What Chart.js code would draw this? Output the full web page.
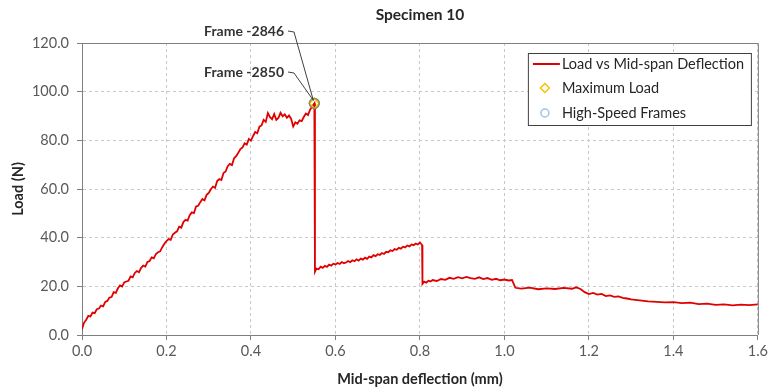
<!DOCTYPE html>
<html>
<head>
<meta charset="utf-8">
<script src="https://cdn.jsdelivr.net/npm/chart.js@4"></script>
<style>
  html, body { margin: 0; padding: 0; background: #fff; }
  #wrap { width: 771px; height: 390px; }
</style>
</head>
<body>
<div id="wrap"><canvas id="chart"></canvas></div>
<script>
// Load vs mid-span deflection
const deflection = [
  0.000, 0.005, 0.010, 0.015, 0.020, 0.025, 0.030, 0.035, 0.040, 0.045,
  0.050, 0.055, 0.060, 0.065, 0.070, 0.075, 0.080, 0.085, 0.090, 0.095,
  0.100, 0.105, 0.110, 0.115, 0.120, 0.125, 0.130, 0.135, 0.140, 0.145,
  0.150, 0.155, 0.160, 0.165, 0.170, 0.175, 0.180, 0.185, 0.190, 0.195,
  0.200, 0.205, 0.210, 0.215, 0.220, 0.225, 0.230, 0.235, 0.240, 0.245,
  0.250, 0.255, 0.260, 0.265, 0.270, 0.275, 0.280, 0.285, 0.290, 0.295,
  0.300, 0.305, 0.310, 0.315, 0.320, 0.325, 0.330, 0.335, 0.340, 0.345,
  0.350, 0.355, 0.360, 0.365, 0.370, 0.375, 0.380, 0.385, 0.390, 0.395,
  0.400, 0.405, 0.410, 0.415, 0.420, 0.425, 0.430, 0.435, 0.440, 0.445,
  0.450, 0.455, 0.460, 0.465, 0.470, 0.475, 0.480, 0.485, 0.490, 0.495,
  0.500, 0.505, 0.510, 0.515, 0.520, 0.525, 0.530, 0.535, 0.540, 0.545,
  0.550, 0.5515,
  0.555, 0.560, 0.565, 0.570, 0.575, 0.580, 0.585, 0.590, 0.595,
  0.600, 0.605, 0.610, 0.615, 0.620, 0.625, 0.630, 0.635, 0.640, 0.645,
  0.650, 0.655, 0.660, 0.665, 0.670, 0.675, 0.680, 0.685, 0.690, 0.695,
  0.700, 0.705, 0.710, 0.715, 0.720, 0.725, 0.730, 0.735, 0.740, 0.745,
  0.750, 0.755, 0.760, 0.765, 0.770, 0.775, 0.780, 0.785, 0.790, 0.795,
  0.800, 0.803, 0.805, 0.806,
  0.810, 0.815, 0.820, 0.825, 0.830, 0.840, 0.850, 0.860, 0.870, 0.880,
  0.890, 0.900, 0.910, 0.920, 0.930, 0.940, 0.950, 0.960, 0.970, 0.980,
  0.990, 1.000, 1.010, 1.018, 1.022, 1.026,
  1.040, 1.060, 1.080, 1.100, 1.120, 1.140, 1.160, 1.170, 1.180, 1.190,
  1.200, 1.210, 1.220, 1.230, 1.240, 1.250, 1.260, 1.270, 1.280, 1.290,
  1.300, 1.320, 1.340, 1.360, 1.380, 1.400, 1.420, 1.440, 1.460, 1.480,
  1.500, 1.520, 1.540, 1.560, 1.580, 1.600
];
const load = [
  2.4, 5.1, 6.3, 7.9, 7.6, 9.2, 9.0, 10.6, 10.9, 12.1,
  11.8, 13.6, 14.0, 15.4, 15.6, 17.6, 17.3, 19.2, 20.4, 19.9,
  21.6, 22.0, 22.3, 24.1, 23.7, 25.5, 26.3, 25.8, 27.6, 28.5,
  28.1, 30.0, 30.4, 31.9, 31.5, 33.3, 34.0, 34.4, 36.1, 37.5,
  38.6, 39.4, 39.1, 41.3, 42.0, 42.6, 44.5, 44.1, 46.4, 47.3,
  47.0, 49.2, 50.4, 50.1, 52.8, 53.1, 54.6, 55.9, 55.3, 57.6,
  58.4, 59.9, 61.0, 60.5, 63.3, 64.1, 63.7, 66.6, 67.2, 69.4,
  70.3, 69.8, 72.6, 73.5, 74.9, 76.4, 77.1, 78.8, 78.2, 80.6,
  79.9, 81.8, 83.4, 82.9, 85.6, 86.1, 88.4, 87.6, 91.2, 89.5,
  88.7, 90.8, 88.4, 89.2, 91.3, 89.9, 90.7, 89.3, 90.2, 88.9,
  85.7, 87.4, 86.8, 88.2, 87.9, 89.6, 91.0, 90.4, 92.6, 93.9,
  95.2, 26.0,
  27.3, 27.0, 28.1, 27.6, 28.4, 28.0, 28.9, 28.5, 29.3,
  29.0, 29.6, 29.2, 30.0, 29.5, 29.8, 30.4, 29.9, 30.7, 30.3,
  31.1, 30.6, 31.4, 31.0, 31.8, 31.3, 32.2, 31.9, 32.8, 32.4,
  33.2, 32.9, 33.7, 33.3, 34.2, 34.0, 34.8, 34.5, 35.3, 35.0,
  35.8, 35.5, 36.3, 36.0, 36.8, 36.4, 37.2, 36.9, 37.6, 37.2,
  38.0, 37.4, 37.0, 21.0,
  21.9, 21.5, 22.3, 22.0, 22.6, 22.2, 23.0, 22.7, 23.5, 23.1,
  23.8, 23.3, 23.9, 23.4, 23.1, 23.7, 23.0, 23.4, 22.7, 23.1,
  22.5, 22.8, 22.4, 22.6, 21.0, 19.4,
  19.1, 19.5, 18.8, 19.2, 18.9, 19.4, 19.0, 19.6, 18.9, 17.6,
  16.8, 17.3, 16.6, 16.9, 16.0, 16.3, 15.7, 15.9, 15.3, 15.0,
  14.6, 14.2, 13.8, 13.6, 13.4, 13.5, 13.1, 13.3, 12.7, 12.9,
  12.4, 12.6, 12.2, 12.5, 12.3, 12.6
];

const maxLoadX = [0.55];
const maxLoadY = [95.2];
const frameX = [0.55, 0.55];
const frameY = [95.2, 95.2];
const frameNames = ['Frame -2846', 'Frame -2850'];

const seriesLabels = ['Load vs Mid-span Deflection', 'Maximum Load', 'High-Speed Frames'];
const xTicks = [0, 0.2, 0.4, 0.6, 0.8, 1.0, 1.2, 1.4, 1.6];
const yTicks = [0, 20, 40, 60, 80, 100, 120];

const RED = '#E00000';
const GOLD = '#F2C200';
const BLUE = '#9DC3E6';
const FONT = 'Lato, "Open Sans", sans-serif';

const toPts = (xs, ys) => xs.map((x, i) => ({x: x, y: ys[i]}));

// frame round the plot, annotations with leader lines, and a boxed legend inside
const extras = {
  id: 'extras',
  afterDatasetsDraw(chart) {
    const {ctx, chartArea: a, scales} = chart;
    ctx.save();
    ctx.strokeStyle = '#7F7F7F';
    ctx.lineWidth = 1;
    ctx.beginPath();
    ctx.moveTo(a.left, a.top + 0.5);
    ctx.lineTo(a.right + 0.5, a.top + 0.5);
    ctx.lineTo(a.right + 0.5, a.bottom);
    ctx.stroke();

    // leader lines to the high-speed frames
    const labelY = [31, 72];
    ctx.font = 'bold 14px ' + FONT;
    ctx.fillStyle = '#333';
    ctx.textAlign = 'right';
    ctx.textBaseline = 'middle';
    frameNames.forEach((name, i) => {
      const px = scales.x.getPixelForValue(frameX[i]);
      const py = scales.y.getPixelForValue(frameY[i]);
      ctx.fillText(name, 284, labelY[i]);
      ctx.strokeStyle = '#404040';
      ctx.beginPath();
      ctx.moveTo(288, labelY[i]);
      ctx.lineTo(294, labelY[i] + 1);
      ctx.lineTo(px - 1, py - 3);
      ctx.stroke();
    });

    // legend box
    const bx = a.right - 230, by = a.top + 10, bw = 223, bh = 72;
    ctx.fillStyle = '#fff';
    ctx.fillRect(bx, by, bw, bh);
    ctx.strokeStyle = '#404040';
    ctx.strokeRect(bx + 0.5, by + 0.5, bw, bh);
    const rows = [by + 11, by + 35, by + 60];
    ctx.font = '14.5px ' + FONT;
    ctx.fillStyle = '#262626';
    ctx.textAlign = 'left';
    seriesLabels.forEach((t, i) => ctx.fillText(t, bx + 34, rows[i]));
    ctx.strokeStyle = RED;
    ctx.lineWidth = 2;
    ctx.beginPath();
    ctx.moveTo(bx + 5, rows[0]);
    ctx.lineTo(bx + 32, rows[0]);
    ctx.stroke();
    ctx.lineWidth = 1.5;
    ctx.strokeStyle = GOLD;
    const cx = bx + 17;
    ctx.beginPath();
    ctx.moveTo(cx, rows[1] - 4.5);
    ctx.lineTo(cx + 4.5, rows[1]);
    ctx.lineTo(cx, rows[1] + 4.5);
    ctx.lineTo(cx - 4.5, rows[1]);
    ctx.closePath();
    ctx.stroke();
    ctx.strokeStyle = BLUE;
    ctx.beginPath();
    ctx.arc(cx, rows[2], 4, 0, Math.PI * 2);
    ctx.stroke();
    ctx.restore();
  }
};

new Chart(document.getElementById('chart'), {
  type: 'scatter',
  data: {
    datasets: [
      {
        label: seriesLabels[0],
        data: toPts(deflection, load),
        showLine: true,
        borderColor: RED,
        borderWidth: 1.8,
        pointRadius: 0,
        tension: 0,
        order: 3
      },
      {
        label: seriesLabels[1],
        data: toPts(maxLoadX, maxLoadY),
        pointStyle: 'rectRot',
        pointRadius: 5,
        borderColor: GOLD,
        backgroundColor: 'rgba(0,0,0,0)',
        pointBorderWidth: 1.5,
        order: 2
      },
      {
        label: seriesLabels[2],
        data: toPts(frameX, frameY),
        pointStyle: 'circle',
        pointRadius: 5,
        borderColor: '#8C8C5A',
        backgroundColor: 'rgba(0,0,0,0)',
        pointBorderWidth: 1.2,
        order: 1
      }
    ]
  },
  options: {
    responsive: true,
    maintainAspectRatio: false,
    animation: false,
    layout: { padding: { left: 0, right: 11, top: 0, bottom: 0 } },
    plugins: {
      legend: { display: false },
      tooltip: { enabled: false },
      title: {
        display: true,
        text: 'Specimen 10',
        fullSize: false,
        color: '#262626',
        font: { family: FONT, size: 15.5, weight: 'bold' },
        padding: { top: 6, bottom: 18.4 }
      }
    },
    scales: {
      x: {
        type: 'linear',
        min: 0,
        max: 1.6,
        afterFit: s => { s.height = 55; },
        afterBuildTicks: s => { s.ticks = xTicks.map(v => ({value: v})); },
        ticks: {
          color: '#595959',
          font: { family: FONT, size: 14.5 },
          padding: 3,
          callback: v => v.toFixed(1)
        },
        grid: { color: '#C8C8C8', tickColor: '#7F7F7F', tickLength: 5 },
        border: { color: '#7F7F7F', dash: [3, 3] },
        title: {
          display: true,
          text: 'Mid-span deflection (mm)',
          color: '#262626',
          font: { family: FONT, size: 14.5, weight: 'bold' },
          padding: { top: 2, bottom: 2 }
        }
      },
      y: {
        min: 0,
        max: 120,
        afterFit: s => { s.width = 82; },
        afterBuildTicks: s => { s.ticks = yTicks.map(v => ({value: v})); },
        ticks: {
          color: '#595959',
          font: { family: FONT, size: 14.5 },
          padding: 8,
          callback: v => v.toFixed(1)
        },
        grid: { color: '#C8C8C8', tickColor: '#7F7F7F', tickLength: 5 },
        border: { color: '#7F7F7F', dash: [3, 3] },
        title: {
          display: true,
          text: 'Load (N)',
          color: '#262626',
          font: { family: FONT, size: 14.5, weight: 'bold' },
          padding: { top: 10, bottom: 0 }
        }
      }
    }
  },
  plugins: [extras]
});
</script>
</body>
</html>
